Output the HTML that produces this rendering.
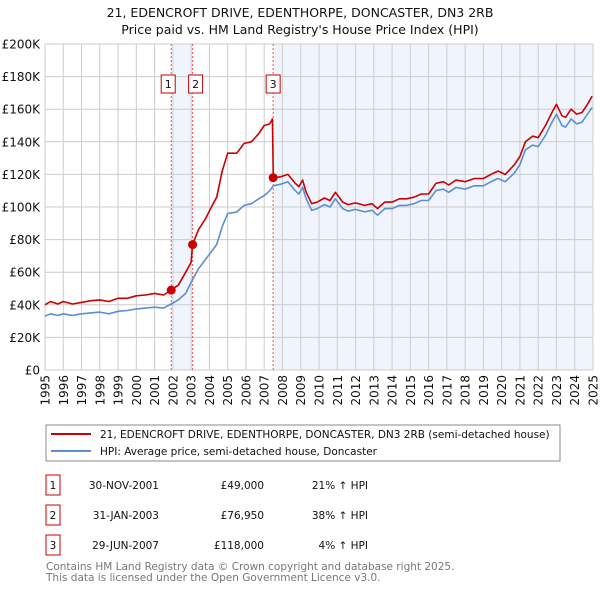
<!DOCTYPE html>
<html><head><meta charset="utf-8"><style>
body{margin:0;background:#fff;width:600px;height:590px;overflow:hidden;font-family:"DejaVu Sans","Liberation Sans",sans-serif;}
</style></head><body>
<svg width="600" height="590" xmlns="http://www.w3.org/2000/svg" font-family="DejaVu Sans, Liberation Sans, sans-serif">
<text x="300" y="17" font-size="12.5" text-anchor="middle" fill="#111">21, EDENCROFT DRIVE, EDENTHORPE, DONCASTER, DN3 2RB</text>
<text x="300" y="34" font-size="12.5" text-anchor="middle" fill="#111">Price paid vs. HM Land Registry's House Price Index (HPI)</text>
<g id="plot"></g>
<g>
<rect x="46" y="425" width="514" height="36" fill="#fff" stroke="#888"/>
<line x1="51" y1="434" x2="91" y2="434" stroke="#cc0000" stroke-width="2"/>
<text x="100" y="438" font-size="10.5" fill="#111">21, EDENCROFT DRIVE, EDENTHORPE, DONCASTER, DN3 2RB (semi-detached house)</text>
<line x1="51" y1="451" x2="91" y2="451" stroke="#5b8fd0" stroke-width="2"/>
<text x="100" y="455" font-size="10.5" fill="#111">HPI: Average price, semi-detached house, Doncaster</text>
</g>
<g font-size="10.5" fill="#111">
<rect x="46" y="475" width="14" height="20" fill="#fff" stroke="#cc0000"/>
<text x="53" y="489" text-anchor="middle">1</text>
<text x="159" y="489" text-anchor="end">30-NOV-2001</text>
<text x="264" y="489" text-anchor="end">£49,000</text>
<text x="368" y="489" text-anchor="end">21% ↑ HPI</text>
<rect x="46" y="505" width="14" height="20" fill="#fff" stroke="#cc0000"/>
<text x="53" y="519" text-anchor="middle">2</text>
<text x="159" y="519" text-anchor="end">31-JAN-2003</text>
<text x="264" y="519" text-anchor="end">£76,950</text>
<text x="368" y="519" text-anchor="end">38% ↑ HPI</text>
<rect x="46" y="535" width="14" height="20" fill="#fff" stroke="#cc0000"/>
<text x="53" y="549" text-anchor="middle">3</text>
<text x="159" y="549" text-anchor="end">29-JUN-2007</text>
<text x="264" y="549" text-anchor="end">£118,000</text>
<text x="368" y="549" text-anchor="end">4% ↑ HPI</text>
</g>
<text x="46" y="570" font-size="10.5" fill="#777">Contains HM Land Registry data © Crown copyright and database right 2025.</text>
<text x="46" y="581" font-size="10.5" fill="#777">This data is licensed under the Open Government Licence v3.0.</text>
</svg>
<script>
const yTicks=[0,20,40,60,80,100,120,140,160,180,200];
const yTickLabels=["£0","£20K","£40K","£60K","£80K","£100K","£120K","£140K","£160K","£180K","£200K"];
const years=[1995,1996,1997,1998,1999,2000,2001,2002,2003,2004,2005,2006,2007,2008,2009,2010,2011,2012,2013,2014,2015,2016,2017,2018,2019,2020,2021,2022,2023,2024,2025];
const hpiDates=[1995.0,1995.3,1995.7,1996.0,1996.5,1997.0,1997.5,1998.0,1998.5,1999.0,1999.5,2000.0,2000.5,2001.0,2001.5,2001.9,2002.3,2002.7,2003.08,2003.4,2003.8,2004.2,2004.4,2004.7,2005.0,2005.5,2005.9,2006.3,2006.7,2007.0,2007.3,2007.5,2007.9,2008.3,2008.7,2008.9,2009.1,2009.3,2009.6,2009.9,2010.3,2010.6,2010.9,2011.3,2011.6,2012.0,2012.5,2012.9,2013.2,2013.6,2014.0,2014.4,2014.8,2015.2,2015.6,2016.0,2016.4,2016.8,2017.1,2017.5,2018.0,2018.5,2019.0,2019.5,2019.8,2020.2,2020.7,2021.0,2021.3,2021.7,2022.0,2022.4,2022.8,2023.0,2023.3,2023.5,2023.8,2024.1,2024.4,2024.7,2024.95];
const hpiValues=[33,34.5,33.5,34.5,33.5,34.5,35,35.5,34.5,36,36.5,37.5,38,38.5,38,40.5,43,47,55.5,62,68,74,77,88,96,97,101,102,105,107,110,113,114,115.5,110,108,112,105,98,99,101.5,100,105,99,97.5,98.5,97,98,95,99,99,101,101,102,104,104,110,111,109,112,111,113,113,116,117.5,115.5,121,126,135,138,137,144,153,157,150,149,154,151,152,157,161];
const priceDates=[1995.0,1995.3,1995.7,1996.0,1996.5,1997.0,1997.5,1998.0,1998.5,1999.0,1999.5,2000.0,2000.5,2001.0,2001.5,2001.9,2002.3,2002.7,2003.0,2003.08,2003.4,2003.8,2004.2,2004.4,2004.7,2005.0,2005.5,2005.9,2006.3,2006.7,2007.0,2007.3,2007.45,2007.5,2007.9,2008.3,2008.7,2008.9,2009.1,2009.3,2009.6,2009.9,2010.3,2010.6,2010.9,2011.3,2011.6,2012.0,2012.5,2012.9,2013.2,2013.6,2014.0,2014.4,2014.8,2015.2,2015.6,2016.0,2016.4,2016.8,2017.1,2017.5,2018.0,2018.5,2019.0,2019.5,2019.8,2020.2,2020.7,2021.0,2021.3,2021.7,2022.0,2022.4,2022.8,2023.0,2023.3,2023.5,2023.8,2024.1,2024.4,2024.7,2024.95];
const priceValues=[40,42,40.5,42,40.5,41.5,42.5,43,42,44,44,45.5,46,47,46,49,52,60,66,76.95,86,93,102,106,122,133,133,139,140,145,150,151,154,118,118.5,120,114.5,112.5,116.5,109,102,103,105.5,104,109,103,101.5,102.5,101,102,99,103,103,105,105,106,108,108,114.5,115.5,113.5,116.5,115.5,117.5,117.5,120.5,122,120,126,131,140,143.5,142.5,150,159,163,156,155,160,157,158,163,168];
const saleDates=[2001.91,2003.08,2007.49];
const salePrices=[49,76.95,118];
const saleLabels=["1","2","3"];

const NS="http://www.w3.org/2000/svg";
const X0=45,X1=593,Y0=370,Y1=44;
const xs=d=>X0+(d-1995)/(2025-1995)*(X1-X0);
const ys=v=>Y0-v/200*(Y0-Y1);
const g=document.getElementById('plot');
function mk(t,a){const e=document.createElementNS(NS,t);for(const k in a)e.setAttribute(k,a[k]);g.appendChild(e);return e;}

let bg=mk('rect',{x:X0,y:Y1,width:X1-X0,height:Y0-Y1,fill:'#fff'});


let sh1=mk('rect',{x:xs(saleDates[0]),y:Y1,width:xs(saleDates[1])-xs(saleDates[0]),height:Y0-Y1,fill:'#f0f4fd'});


let sh2=mk('rect',{x:xs(saleDates[2]),y:Y1,width:X1-xs(saleDates[2]),height:Y0-Y1,fill:'#f0f4fd'});



yTicks.forEach((v,i)=>{
  const l=mk('line',{x1:X0,x2:X1,y1:ys(v),y2:ys(v),stroke:'#cccccc','stroke-width':1});
  
  
  const t=mk('text',{x:X0-5,y:ys(v)+4.5,'font-size':12,'text-anchor':'end',fill:'#111'});
  t.textContent=yTickLabels[i];
  
  
});
years.forEach(yr=>{
  const x=xs(yr);
  const l=mk('line',{x1:x,x2:x,y1:Y1,y2:Y0,stroke:'#cccccc','stroke-width':1});
  
  
  const t=mk('text',{x:0,y:0,'font-size':12,'text-anchor':'end',fill:'#111',transform:`translate(${x+4.5},${Y0+5}) rotate(-90)`});
  t.textContent=yr;
  
  
});

saleDates.forEach((d,i)=>{
  const l=mk('line',{x1:xs(d),x2:xs(d),y1:Y1,y2:Y0,stroke:'#ee5555','stroke-width':1,'stroke-dasharray':'2,2'});
  
  
});

function path(ds,vs,color,name){
  let dstr=ds.map((d,i)=>(i?'L':'M')+xs(d).toFixed(1)+','+ys(vs[i]).toFixed(1)).join('');
  const p=mk('path',{d:dstr,fill:'none',stroke:color,'stroke-width':1.6,'stroke-linejoin':'round'});
  
  
}
path(hpiDates,hpiValues,'#5b8fd0','hpi-line');
path(priceDates,priceValues,'#cc0000','price-paid-line');

saleDates.forEach((d,i)=>{
  const c=mk('circle',{cx:xs(d),cy:ys(salePrices[i]),r:4.5,fill:'#cc0000'});
  
  
  const bx=xs(d)-(i==2?0:(i==0?3:-3))-7;
  const r=mk('rect',{x:bx,y:75,width:14,height:18,fill:'#fff',stroke:'#cc0000'});
  
  
  const t=mk('text',{x:bx+7,y:88,'font-size':11,'text-anchor':'middle',fill:'#111'});
  t.textContent=saleLabels[i];
  
  
});
</script>
</body></html>
